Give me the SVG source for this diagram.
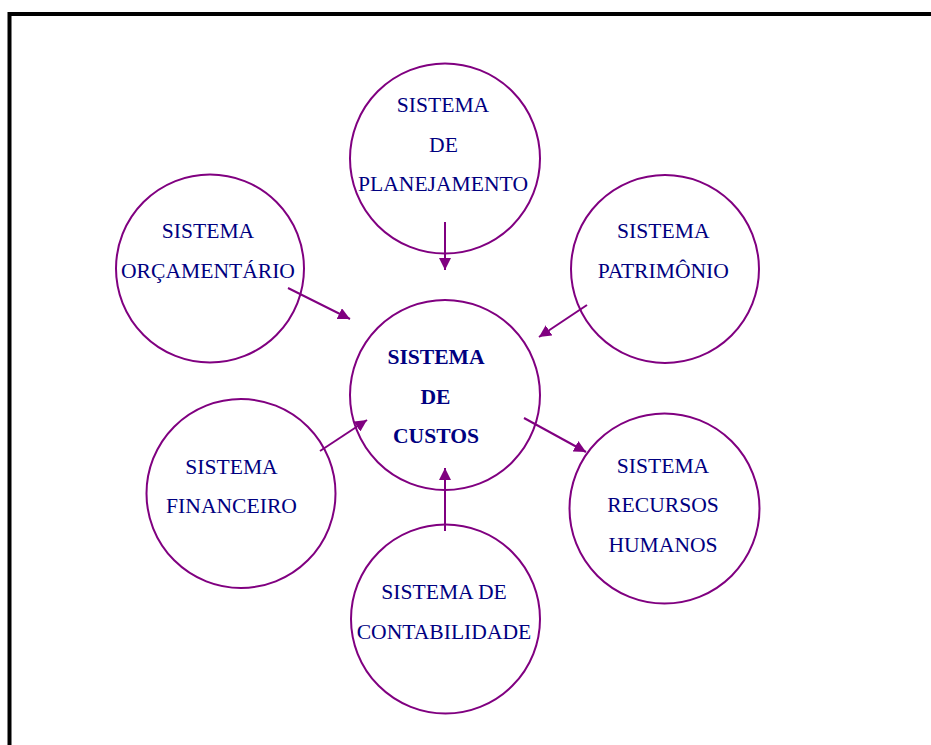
<svg xmlns="http://www.w3.org/2000/svg" width="931" height="745" viewBox="0 0 931 745">
<style>
.c{fill:none;stroke:#800080;stroke-width:2}
.t{font-family:"Liberation Serif","Times New Roman",serif;font-size:21.6px;fill:#000080;text-anchor:middle}
.b{font-weight:bold}
.a{stroke:#800080;stroke-width:2;fill:none;marker-end:url(#ah)}
</style>
<defs>
<marker id="ah" markerUnits="userSpaceOnUse" markerWidth="14" markerHeight="12" refX="12" refY="6" orient="auto">
<path d="M0,0 L12,6 L0,12 Z" fill="#800080"/>
</marker>
</defs>
<rect width="931" height="745" fill="#fff"/>
<path d="M9.5,745 V14 H931" fill="none" stroke="#000" stroke-width="4"/>
<g id="connectors">
<line class="a" x1="445" y1="222" x2="445" y2="270"/>
<line class="a" x1="288" y1="288" x2="350" y2="319"/>
<line class="a" x1="587" y1="305" x2="539" y2="337"/>
<line class="a" x1="320" y1="451" x2="367" y2="420"/>
<line class="a" x1="524" y1="418" x2="586" y2="452"/>
<line class="a" x1="445" y1="531" x2="445" y2="468"/>
</g>
<g id="planejamento">
<circle class="c" cx="445" cy="158.5" r="95"/>
<text class="t" x="443" y="112">SISTEMA</text>
<text class="t" x="443.5" y="152">DE</text>
<text class="t" x="443" y="191">PLANEJAMENTO</text>
</g>
<g id="orcamentario">
<circle class="c" cx="210" cy="268.5" r="94"/>
<text class="t" x="208" y="238">SISTEMA</text>
<text class="t" x="208" y="277.5">ORÇAMENTÁRIO</text>
</g>
<g id="patrimonio">
<circle class="c" cx="665" cy="269" r="94"/>
<text class="t" x="663.3" y="238">SISTEMA</text>
<text class="t" x="663.3" y="277.5">PATRIMÔNIO</text>
</g>
<g id="custos">
<circle class="c" cx="445" cy="395" r="95"/>
<text class="t b" x="436" y="364">SISTEMA</text>
<text class="t b" x="435.5" y="404">DE</text>
<text class="t b" x="436" y="443">CUSTOS</text>
</g>
<g id="financeiro">
<circle class="c" cx="241" cy="493.5" r="94.5"/>
<text class="t" x="231.5" y="474">SISTEMA</text>
<text class="t" x="231.5" y="512.5">FINANCEIRO</text>
</g>
<g id="recursos">
<circle class="c" cx="664.5" cy="508.5" r="95"/>
<text class="t" x="663" y="473">SISTEMA</text>
<text class="t" x="663" y="512">RECURSOS</text>
<text class="t" x="663" y="551.5">HUMANOS</text>
</g>
<g id="contabilidade">
<circle class="c" cx="445.5" cy="619" r="94.5"/>
<text class="t" x="444" y="599">SISTEMA DE</text>
<text class="t" x="444" y="639">CONTABILIDADE</text>
</g>
</svg>
